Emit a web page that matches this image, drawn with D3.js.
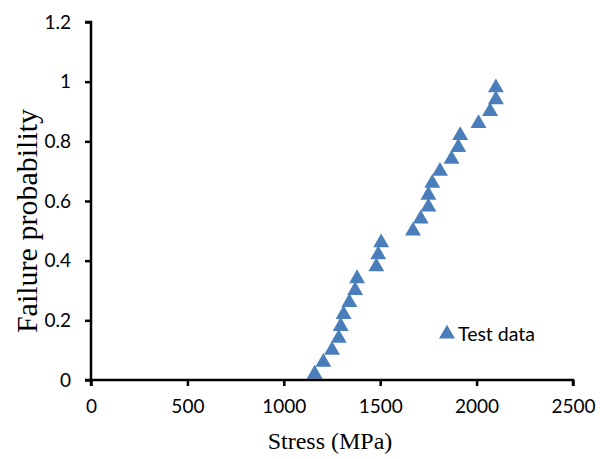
<!DOCTYPE html>
<html>
<head>
<meta charset="utf-8">
<script src="https://cdn.jsdelivr.net/npm/d3@7"></script>
<style>
  body { margin: 0; background: #fff; }
  .tick text { font-family: Lato, 'Open Sans', sans-serif; font-size: 19px; fill: #000; }
  .axisTitle { font-family: 'Liberation Serif', 'Times New Roman', serif; font-size: 24px; fill: #000; }
  .legendText { font-family: Lato, 'Open Sans', sans-serif; font-size: 19.5px; fill: #000; }
</style>
</head>
<body>
<svg id="chart" width="600" height="459"></svg>
<script>
// data
const stress = [1160, 1205, 1250, 1285, 1295, 1310, 1340, 1370, 1380, 1480, 1490, 1505,
  1670, 1710, 1750, 1750, 1770, 1810, 1870, 1905, 1915, 2010, 2070, 2100, 2100]
const probability = [0.02, 0.06, 0.10, 0.14, 0.18, 0.22, 0.26, 0.30, 0.34, 0.38, 0.42, 0.46,
  0.50, 0.54, 0.58, 0.62, 0.66, 0.70, 0.74, 0.78, 0.82, 0.86, 0.90, 0.94, 0.98]
const xTicks = [0, 500, 1000, 1500, 2000, 2500]
const yTicks = [0, 0.2, 0.4, 0.6, 0.8, 1, 1.2]
const seriesName = 'Test data'

const margin = { top: 22, right: 27, bottom: 79, left: 91 }
const svg = d3.select('#chart')
const width = 600 - margin.left - margin.right
const height = 459 - margin.top - margin.bottom

const x = d3.scaleLinear().domain([0, 2500]).range([0, width])
const y = d3.scaleLinear().domain([0, 1.2]).range([height, 0])

const g = svg.append('g').attr('transform', `translate(${margin.left},${margin.top})`)

const points = stress.map((s, i) => ({ s, p: probability[i] }))
const tri = d3.symbol().type(d3.symbolTriangle).size(110)

g.selectAll('.pt')
  .data(points)
  .enter()
  .append('path')
  .attr('class', 'pt')
  .attr('d', tri)
  .attr('transform', d => `translate(${x(d.s)},${y(d.p)})`)
  .attr('fill', '#4a7ebb')

// axes
const xAxis = g.append('g')
  .attr('transform', `translate(0,${height})`)
  .call(d3.axisBottom(x).tickValues(xTicks).tickSize(6).tickPadding(14).tickFormat(d3.format('d')))
const yAxis = g.append('g')
  .call(d3.axisLeft(y).tickValues(yTicks).tickSize(6).tickPadding(14).tickFormat(d => d3.format('')(+d.toFixed(1))))

for (const ax of [xAxis, yAxis]) {
  ax.select('.domain').attr('stroke', '#000').attr('stroke-width', 2.5)
  ax.selectAll('.tick line').attr('stroke', '#000').attr('stroke-width', 2.5)
}
xAxis.select('.domain').attr('d', `M0,6V0H${width}V6`)
yAxis.select('.domain').attr('d', `M-6,0H0V${height}H-6`)

// axis titles
svg.append('text')
  .attr('class', 'axisTitle')
  .attr('x', 330)
  .attr('y', 449)
  .attr('text-anchor', 'middle')
  .text('Stress (MPa)')

svg.append('text')
  .attr('class', 'axisTitle')
  .attr('transform', 'translate(37,221) rotate(-90)')
  .attr('text-anchor', 'middle')
  .style('font-size', '30px')
  .text('Failure probability')

// legend
const legend = svg.append('g').attr('transform', 'translate(447,334)')
legend.append('path').attr('d', tri).attr('fill', '#4a7ebb')
legend.append('text')
  .attr('class', 'legendText')
  .attr('x', 11)
  .attr('y', 7)
  .text(seriesName)
</script>
</body>
</html>
